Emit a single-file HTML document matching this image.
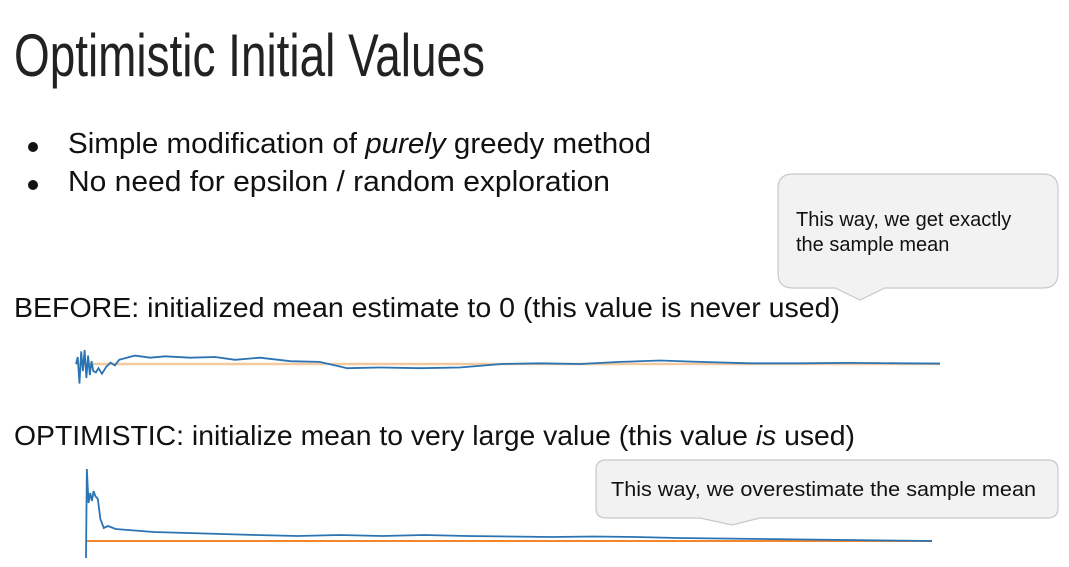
<!DOCTYPE html>
<html><head><meta charset="utf-8">
<style>
body{margin:0;width:1069px;height:567px;background:#fff;overflow:hidden;position:relative;font-family:"Liberation Sans",sans-serif;color:#111}
.t{position:absolute;white-space:nowrap;line-height:1;transform-origin:0 0}
.dot{position:absolute;width:10px;height:10px;border-radius:50%;background:#111}
</style></head><body>
<div class="t" data-w="471" style="left:14px;top:26px;font-size:60px;color:#222">Optimistic Initial Values</div>
<div class="dot" style="left:28px;top:142px"></div>
<div class="dot" style="left:28px;top:180px"></div>
<div class="t" data-w="583" style="left:68px;top:130px;font-size:29px">Simple modification of <i>purely</i> greedy method</div>
<div class="t" data-w="542" style="left:68px;top:168px;font-size:29px">No need for epsilon / random exploration</div>
<div class="t" data-w="826" style="left:14px;top:294px;font-size:28px">BEFORE: initialized mean estimate to 0 (this value is never used)</div>
<div class="t" data-w="841" style="left:14px;top:422px;font-size:28px">OPTIMISTIC: initialize mean to very large value (this value <i>is</i> used)</div>

<svg width="1069" height="567" style="position:absolute;left:0;top:0">
<path d="M793,174 H1043 Q1058,174 1058,189 V273 Q1058,288 1043,288 H885 L860,300 L835,288 H793 Q778,288 778,273 V189 Q778,174 793,174 Z" fill="#f2f2f2" stroke="#c8c8c8" stroke-width="1.2"/>
<g id="c1"></g>
<g id="c2"></g>
<path d="M606,460 H1048 Q1058,460 1058,470 V508 Q1058,518 1048,518 H760 L732,525 L700,518 H606 Q596,518 596,508 V470 Q596,460 606,460 Z" fill="#f2f2f2" stroke="#c8c8c8" stroke-width="1.2"/>
</svg>
<div class="t" style="left:796px;top:208px;font-size:20px;line-height:25px">This way, we get exactly<br>the sample mean</div>
<div class="t" data-w="425" style="left:611px;top:480px;font-size:20px">This way, we overestimate the sample mean</div>

<script>
const beforeSteps=[0,2,4,6,8,10,12,14,16,18,20,23,26,30,35,40,45,50,68,86,103,132,161,184,213,248,282,314,352,398,444,493,537,583,630,676,722,780,838,896,954,1000];
const beforeValues=[0,0.5,-1.4,0.9,-0.5,1.0,-1.0,0.6,-0.8,0.2,-0.5,-0.6,-0.3,-0.7,-0.2,0.1,-0.1,0.3,0.6,0.45,0.55,0.45,0.5,0.3,0.45,0.2,0.15,-0.3,-0.25,-0.3,-0.25,0,0.05,0,0.15,0.25,0.15,0.05,0.05,0.08,0.05,0.03];
const optimisticSteps=[0,1,3,5,7,9,11,14,17,21,26,35,50,80,120,160,200,250,300,350,400,450,500,550,600,650,700,750,800,850,900,950,1000];
const optimisticValues=[-17,72,38,48,40,50,45,42,22,13,15,12,11,9,8,7,6,5,6,5,6,5,4.5,4,4.5,4,3,2.5,2,1.5,1,0.5,0];
const beforeMean=[0];
const optimisticMean=[0];
const NS='http://www.w3.org/2000/svg';
function chart(gid,steps,vals,mean,x0,x1,yMid,scale,name,meanColor,meanW){
  const g=document.getElementById(gid);
  const maxS=steps[steps.length-1];
  const xs=s=>x0+(x1-x0)*s/maxS;
  const ys=v=>yMid-v*scale;
  const m=document.createElementNS(NS,'line');
  
  
  m.setAttribute('x1',x0);m.setAttribute('x2',x1);m.setAttribute('y1',ys(mean[0]));m.setAttribute('y2',ys(mean[0]));
  m.setAttribute('stroke',meanColor);m.setAttribute('stroke-width',meanW);
  g.appendChild(m);
  const p=document.createElementNS(NS,'polyline');
  
  
  p.setAttribute('points',vals.map((v,i)=>xs(steps[i])+','+ys(v)).join(' '));
  p.setAttribute('fill','none');p.setAttribute('stroke','#2a74b4');p.setAttribute('stroke-width',1.8);
  g.appendChild(p);
}
chart('c1',beforeSteps,beforeValues,beforeMean,76,940,364,14,'before','#f5c9a0',2.5);
chart('c2',optimisticSteps,optimisticValues,optimisticMean,86,932,541,1,'optimistic','#f5852a',2);
document.querySelectorAll('[data-w]').forEach(e=>{
  const w=e.getBoundingClientRect().width;
  e.style.transform='scaleX('+(+e.dataset.w/w)+')';
});
</script>
</body></html>
